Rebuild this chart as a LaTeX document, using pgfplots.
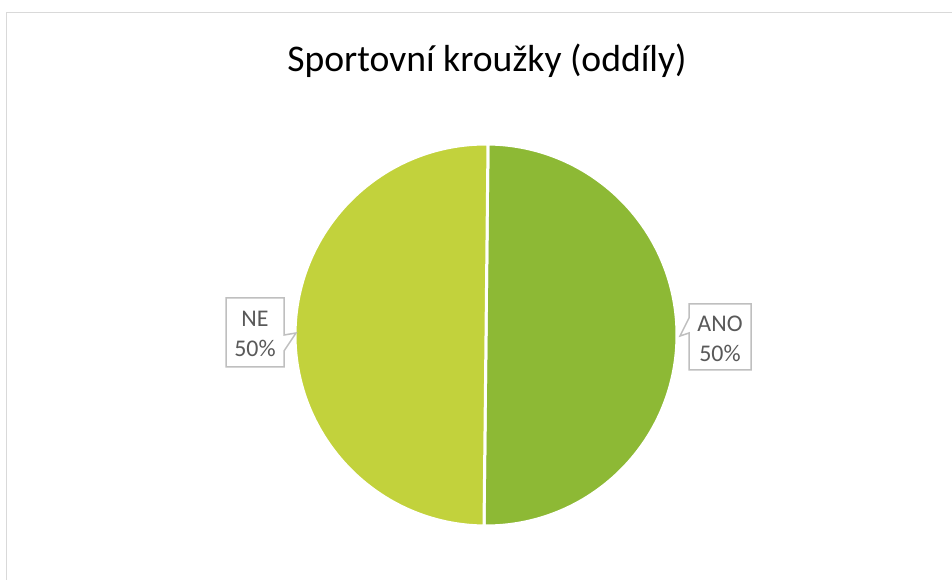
\documentclass[border=0pt]{standalone}
\usepackage{pgfplots}
\usepackage{pgfplotstable}
\pgfplotsset{compat=1.18}
\usepackage{fontspec}
\setmainfont{Carlito}

\definecolor{ano}{HTML}{8DB935}
\definecolor{ne}{HTML}{C2D23C}
\definecolor{lbl}{HTML}{595959}
\definecolor{callout}{HTML}{BFBFBF}
\definecolor{frame}{HTML}{D9D9D9}

\pgfplotstableread{
label value
ANO 50
NE 50
}\piedata

\begin{document}
\begin{tikzpicture}
\pgfplotstablegetelem{0}{value}\of\piedata \let\vANO\pgfplotsretval
\pgfplotstablegetelem{1}{value}\of\piedata \let\vNE\pgfplotsretval
\pgfmathsetmacro\total{\vANO+\vNE}
\pgfmathsetmacro\fANO{\vANO/\total}
\pgfmathsetmacro\fNE{\vNE/\total}
\pgfmathsetmacro\startA{89.4}
\pgfmathsetmacro\endA{\startA-360*\fANO}
\pgfmathsetmacro\endB{\endA-360*\fNE}
\pgfmathsetmacro\pANO{100*\fANO}
\pgfmathsetmacro\pNE{100*\fNE}
\begin{axis}[
    width=952bp, height=580bp, scale only axis,
    xmin=0, xmax=952, ymin=0, ymax=580,
    y dir=reverse,
    hide axis, clip=false,
    /pgf/number format/assume math mode=true,
]
% page extent
\path (axis cs:0,0) rectangle (axis cs:952,580);
% chart frame (cut by the page on the right and bottom)
\draw[overlay, frame, line width=1.5bp] (axis cs:6.5,12.5) rectangle (axis cs:1000,700);

% title
\node[anchor=base, font=\fontsize{37.8}{45}\selectfont] at (axis cs:487,72) {Sportovní kroužky (oddíly)};

% slices
\filldraw[fill=ano, draw=white, line width=3bp] (axis cs:486,335) -- ++(\startA:191bp)
    arc[start angle=\startA, end angle=\endA, radius=191bp] -- cycle;
\filldraw[fill=ne, draw=white, line width=3bp] (axis cs:486,335) -- ++(\endA:191bp)
    arc[start angle=\endA, end angle=\endB, radius=191bp] -- cycle;

% callouts
\filldraw[fill=white, draw=callout, line width=1.5bp]
    (axis cs:226,298) -- (axis cs:284,298) -- (axis cs:284,335) -- (axis cs:296,333)
    -- (axis cs:284,351) -- (axis cs:284,367) -- (axis cs:226,367) -- cycle;
\filldraw[fill=white, draw=callout, line width=1.5bp]
    (axis cs:689,304) -- (axis cs:751,304) -- (axis cs:751,370) -- (axis cs:689,370)
    -- (axis cs:689,333) -- (axis cs:680,336) -- (axis cs:689,318) -- cycle;

\node[anchor=base, text=lbl, font=\fontsize{24}{28}\selectfont] at (axis cs:255,327) {NE};
\node[anchor=base, text=lbl, font=\fontsize{24}{28}\selectfont] at (axis cs:255,357) {\pgfmathprintnumber[precision=0]{\pNE}\%};
\node[anchor=base, text=lbl, font=\fontsize{24}{28}\selectfont] at (axis cs:720,332) {ANO};
\node[anchor=base, text=lbl, font=\fontsize{24}{28}\selectfont] at (axis cs:720,362) {\pgfmathprintnumber[precision=0]{\pANO}\%};
\end{axis}
\end{tikzpicture}
\end{document}
